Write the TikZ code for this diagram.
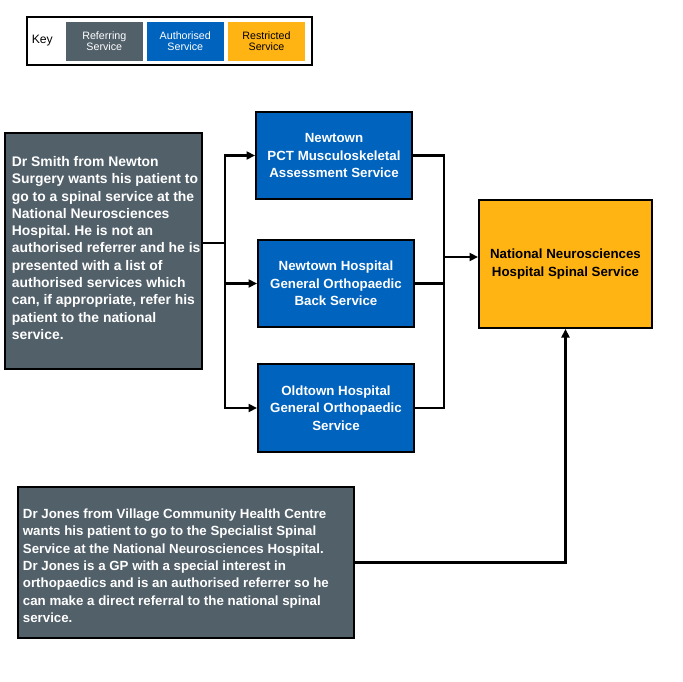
\documentclass[tikz,border=0pt]{standalone}
\usepackage{fontspec}
\setmainfont{Liberation Sans}
\usetikzlibrary{arrows.meta}
\definecolor{refgrey}{RGB}{82,96,106}
\definecolor{authblue}{RGB}{0,99,190}
\definecolor{restrorange}{RGB}{255,180,19}
\frenchspacing
\begin{document}
\begin{tikzpicture}[x=1pt,y=-1pt,
  box/.style={draw=black,line width=2pt,inner sep=0pt},
  refbox/.style={box,fill=refgrey},
  authbox/.style={box,fill=authblue,text=white,align=center,
    font=\bfseries\fontsize{13.3}{17.3}\selectfont,minimum width=156pt,minimum height=87pt},
  restbox/.style={box,fill=restrorange,text=black,align=center,
    font=\bfseries\fontsize{13.3}{17.3}\selectfont,minimum width=173pt,minimum height=128pt},
  reftext/.style={anchor=west,inner sep=0pt,text=white,align=left},
  keybox/.style={inner sep=0pt,minimum width=76.7pt,minimum height=38.4pt,align=center,
    font=\fontsize{10.7}{11}\selectfont},
  conn/.style={line width=2.3pt,draw=black},
  arr/.style={conn,-{Triangle[length=8.5pt,width=8pt]}}
]
\useasboundingbox (0,0) rectangle (683,682);

% Key
\node[box,fill=white,minimum width=285pt,minimum height=48pt] (key) at (169,41) {};
\node[inner sep=0pt,font=\fontsize{12.2}{14}\selectfont] (keylabel) at (42.3,40.7) {Key};
\node[keybox,fill=refgrey,text=white] (kref) at (104.3,41.5) {Referring\\Service};
\node[keybox,fill=authblue,text=white] (kauth) at (185.3,41.5) {Authorised\\Service};
\node[keybox,fill=restrorange,text=black] (krest) at (266.5,41.5) {Restricted\\Service};

% Referring boxes
\node[refbox,minimum width=197pt,minimum height=236pt] (smith) at (103.5,251) {};
\node[reftext,font=\bfseries\fontsize{13.9}{17.3}\selectfont] (smithtext) at (11.7,248) {Dr Smith from Newton\\Surgery wants his patient to\\go to a spinal service at the\\National Neurosciences\\Hospital. He is not an\\authorised referrer and he is\\presented with a list of\\authorised services which\\can, if appropriate, refer his\\patient to the national\\service.};

\node[refbox,minimum width=336pt,minimum height=151pt] (jones) at (186,562.5) {};
\node[reftext,font=\bfseries\fontsize{13.3}{17.3}\selectfont] (jonestext) at (22.7,565.8) {Dr Jones from Village Community Health Centre\\wants his patient to go to the Specialist Spinal\\Service at the National Neurosciences Hospital.\\Dr Jones is a GP with a special interest in\\orthopaedics and is an authorised referrer so he\\can make a direct referral to the national spinal\\service.};

% Authorised boxes
\node[authbox] (b1) at (334,155.5) {Newtown\\PCT Musculoskeletal\\Assessment Service};
\node[authbox] (b2) at (336,283.5) {Newtown Hospital\\General Orthopaedic\\Back Service};
\node[authbox,minimum height=88pt] (b3) at (336,408) {Oldtown Hospital\\General Orthopaedic\\Service};

% Restricted box
\node[restbox] (rest) at (565.5,264) {National Neurosciences\\Hospital Spinal Service};

% Connectors
\coordinate (lbus) at (225,243);
\coordinate (rbus) at (444,257);
\draw[conn] (smith.east |- lbus) -- (lbus);
\draw[arr] (lbus) |- (b1.west);
\draw[arr] (lbus) |- (b2.west);
\draw[arr] (lbus) |- (b3.west);
\draw[conn] (b1.east) -| (rbus);
\draw[conn] (b2.east) -| (rbus);
\draw[conn] (b3.east) -| (rbus);
\draw[arr] (rbus) -- (rbus -| rest.west);
\draw[arr] (jones.east) -| (rest.south);
\end{tikzpicture}
\end{document}
